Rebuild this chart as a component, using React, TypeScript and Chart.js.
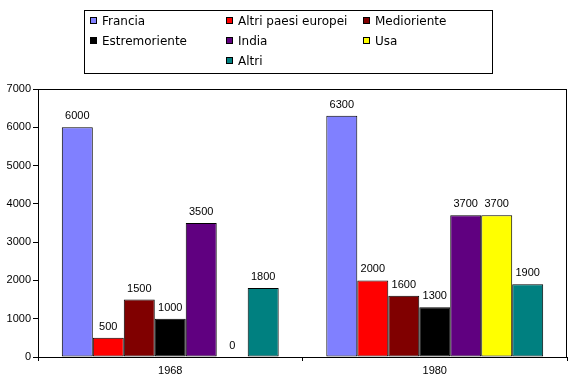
import React, { useEffect, useRef } from "react";
import { Chart, registerables } from "chart.js";

Chart.register(...registerables);

const categories = ["1968", "1980"];
const seriesNames = [
  "Francia",
  "Altri paesi europei",
  "Medioriente",
  "Estremoriente",
  "India",
  "Usa",
  "Altri",
];
const francia = [6000, 6300];
const altriPaesiEuropei = [500, 2000];
const medioriente = [1500, 1600];
const estremoriente = [1000, 1300];
const india = [3500, 3700];
const usa = [0, 3700];
const altri = [1800, 1900];
const yTickMax = 7000;
const yTickStep = 1000;

const seriesValues = [francia, altriPaesiEuropei, medioriente, estremoriente, india, usa, altri];
const seriesColors = ["#8080FF", "#FF0000", "#800000", "#000000", "#600080", "#FFFF00", "#008080"];

const SANS = "\"Liberation Sans\", Arial, sans-serif";
const LABEL_FONT = "11px " + SANS;
const LEGEND_FONT = "12px \"DejaVu Sans\", Verdana, sans-serif";

const plotBorder = {
  id: "plotBorder",
  afterDraw(chart: any) {
    const { ctx, chartArea } = chart;
    ctx.save();
    ctx.strokeStyle = "#000";
    ctx.lineWidth = 1;
    ctx.strokeRect(
      Math.round(chartArea.left) + 0.5,
      Math.round(chartArea.top) + 0.5,
      Math.round(chartArea.right - chartArea.left) - 1,
      Math.round(chartArea.bottom - chartArea.top)
    );
    ctx.restore();
  },
};

const dataLabels = {
  id: "dataLabels",
  afterDatasetsDraw(chart: any) {
    const { ctx } = chart;
    ctx.save();
    ctx.font = LABEL_FONT;
    ctx.fillStyle = "#000";
    ctx.textAlign = "center";
    ctx.textBaseline = "alphabetic";
    chart.data.datasets.forEach((ds: any, di: number) => {
      const meta = chart.getDatasetMeta(di);
      meta.data.forEach((el: any, i: number) => {
        ctx.fillText(String(ds.data[i]), el.x, el.y - 8);
      });
    });
    ctx.restore();
  },
};

const boxLegend = {
  id: "boxLegend",
  afterDraw(chart: any) {
    const { ctx } = chart;
    const box = { x: 84, y: 10, w: 408, h: 63 };
    const colX = [90, 226, 363];
    const rowY = [21, 41, 61];
    ctx.save();
    ctx.fillStyle = "#fff";
    ctx.fillRect(box.x, box.y, box.w, box.h);
    ctx.strokeStyle = "#000";
    ctx.lineWidth = 1;
    ctx.strokeRect(box.x + 0.5, box.y + 0.5, box.w, box.h);
    ctx.font = LEGEND_FONT;
    ctx.textBaseline = "middle";
    ctx.textAlign = "left";
    const ds = chart.data.datasets;
    const cols = 3;
    const rows = Math.ceil(ds.length / cols);
    ds.forEach((d: any, i: number) => {
      const r = Math.floor(i / cols);
      let c = i % cols;
      if (r === rows - 1) {
        const inLast = ds.length - r * cols;
        c = c + Math.floor((cols - inLast) / 2);
      }
      const x = colX[c];
      const y = rowY[r];
      ctx.fillStyle = d.backgroundColor;
      ctx.fillRect(x, y - 4, 7, 7);
      ctx.strokeStyle = "#000";
      ctx.strokeRect(x + 0.5, y - 3.5, 6, 6);
      ctx.fillStyle = "#000";
      ctx.fillText(d.label, x + 12, y + 1);
    });
    ctx.restore();
  },
};

export default function App() {
  const ref = useRef<HTMLCanvasElement | null>(null);

  useEffect(() => {
    document.body.style.margin = "0";
    const canvas = ref.current;
    if (!canvas) return;
    const chart = new Chart(canvas, {
      type: "bar",
      data: {
        labels: categories,
        datasets: seriesNames.map((name, i) => ({
          label: name,
          data: seriesValues[i],
          backgroundColor: seriesColors[i],
          borderColor: "#000",
          borderWidth: (c: any) => (c.raw === 0 ? 0 : 1),
          borderSkipped: false,
          barPercentage: 1,
          categoryPercentage: 0.82,
        })),
      },
      options: {
        responsive: false,
        animation: false,
        devicePixelRatio: 1,
        layout: { padding: { top: 89, right: 14, left: 0, bottom: 0 } },
        plugins: {
          legend: { display: false },
          tooltip: { enabled: false },
          title: { display: false },
        },
        scales: {
          x: {
            grid: {
              offset: true,
              drawOnChartArea: false,
              drawTicks: true,
              tickLength: 4,
              color: "#000",
            },
            border: { display: true, color: "#000" },
            ticks: {
              color: "#000",
              font: { family: SANS, size: 11 },
              padding: 3,
              maxRotation: 0,
            },
            afterFit(scale: any) {
              scale.height = 27;
            },
          },
          y: {
            min: 0,
            max: yTickMax,
            grid: {
              drawOnChartArea: false,
              drawTicks: true,
              tickLength: 5,
              color: "#000",
            },
            border: { display: true, color: "#000" },
            ticks: {
              stepSize: yTickStep,
              color: "#000",
              font: { family: SANS, size: 11 },
              padding: 2,
              callback: (v: any) => String(v),
            },
            afterFit(scale: any) {
              scale.width = 38;
            },
          },
        },
      },
      plugins: [plotBorder, dataLabels, boxLegend],
    } as any);
    const fonts: any = (document as any).fonts;
    if (fonts && fonts.load) {
      Promise.all([
        fonts.load("11px \"Liberation Sans\""),
        fonts.load("12px \"DejaVu Sans\""),
      ]).then(() => chart.update()).catch(() => {});
    }
    return () => chart.destroy();
  }, []);

  return (
    <div style={{ width: 581, height: 384, background: "#fff" }}>
      <canvas ref={ref} width={581} height={384} style={{ display: "block" }} />
    </div>
  );
}
